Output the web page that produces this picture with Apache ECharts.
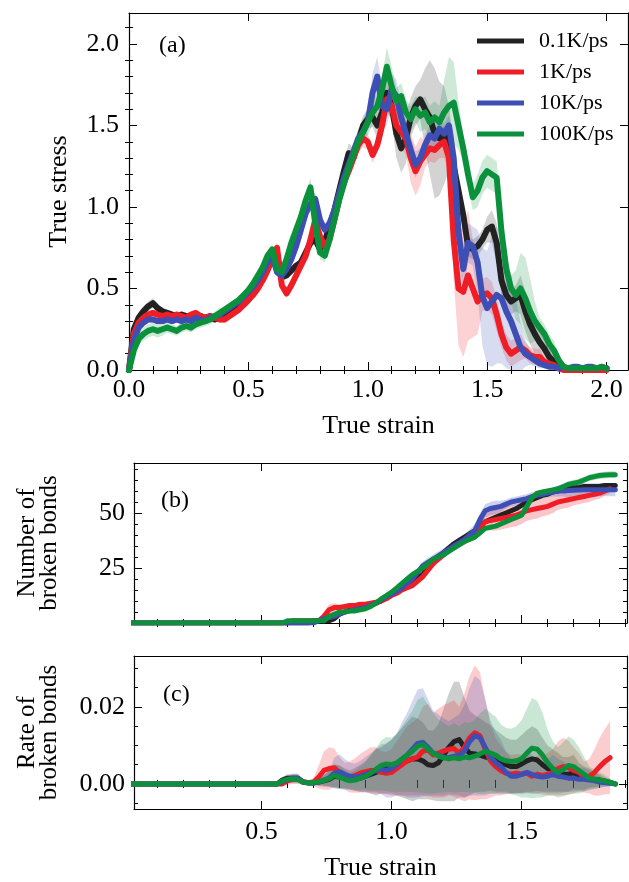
<!DOCTYPE html>
<html>
<head>
<meta charset="utf-8">
<script src="https://cdn.jsdelivr.net/npm/echarts@6/dist/echarts.min.js"></script>
<style>
  html, body { margin: 0; padding: 0; background: #fff; }
  #chart { width: 629px; height: 882px; }
</style>
</head>
<body>
<div id="chart"></div>
<script>
// ---- panel (a): true stress vs true strain ----
const strainA = [
  0.00, 0.02, 0.04, 0.06, 0.08, 0.10, 0.12, 0.14, 0.16, 0.18,
  0.20, 0.22, 0.24, 0.26, 0.28, 0.30, 0.32, 0.34, 0.36, 0.38,
  0.40, 0.42, 0.44, 0.46, 0.48, 0.50, 0.52, 0.54, 0.56, 0.58,
  0.60, 0.62, 0.64, 0.66, 0.68, 0.70, 0.72, 0.74, 0.76, 0.78,
  0.80, 0.82, 0.84, 0.86, 0.88, 0.90, 0.92, 0.94, 0.96, 0.98,
  1.00, 1.02, 1.04, 1.06, 1.08, 1.10, 1.12, 1.14, 1.16, 1.18,
  1.20, 1.22, 1.24, 1.26, 1.28, 1.30, 1.32, 1.34, 1.36, 1.38,
  1.40, 1.42, 1.44, 1.46, 1.48, 1.50, 1.52, 1.54, 1.56, 1.58,
  1.60, 1.62, 1.64, 1.66, 1.68, 1.70, 1.72, 1.74, 1.76, 1.78,
  1.80, 1.82, 1.84, 1.86, 1.88, 1.90, 1.92, 1.94, 1.96, 1.98,
  2.00
]
const stressK = [
  0, 0.25, 0.32, 0.36, 0.39, 0.41, 0.38, 0.36, 0.35, 0.34,
  0.33, 0.34, 0.33, 0.32, 0.34, 0.33, 0.32, 0.33, 0.31, 0.32,
  0.33, 0.34, 0.36, 0.38, 0.40, 0.43, 0.47, 0.51, 0.56, 0.62,
  0.68, 0.70, 0.57, 0.58, 0.61, 0.64, 0.66, 0.72, 0.78, 0.80,
  0.74, 0.79, 0.88, 0.98, 1.10, 1.22, 1.33, 1.30, 1.40, 1.50,
  1.54, 1.55, 1.50, 1.58, 1.70, 1.62, 1.45, 1.36, 1.42, 1.55,
  1.62, 1.66, 1.60, 1.55, 1.45, 1.42, 1.44, 1.42, 1.25, 1.10,
  0.95, 0.76, 0.74, 0.76, 0.80, 0.86, 0.88, 0.78, 0.55, 0.46,
  0.42, 0.44, 0.46, 0.36, 0.28, 0.22, 0.17, 0.13, 0.08, 0.05,
  0.02, 0.01, 0.01, 0.01, 0.01, 0.01, 0.01, 0.01, 0.01, 0.01,
  0.01
]
const stressR = [
  0, 0.22, 0.29, 0.32, 0.34, 0.35, 0.34, 0.33, 0.34, 0.33,
  0.34, 0.33, 0.32, 0.34, 0.35, 0.33, 0.32, 0.33, 0.32, 0.31,
  0.31, 0.33, 0.35, 0.37, 0.40, 0.43, 0.46, 0.50, 0.55, 0.61,
  0.68, 0.75, 0.52, 0.47, 0.52, 0.58, 0.64, 0.70, 0.80, 0.92,
  0.82, 0.76, 0.80, 0.92, 1.05, 1.15, 1.22, 1.30, 1.38, 1.42,
  1.40, 1.32, 1.38, 1.50, 1.66, 1.62, 1.50, 1.46, 1.42, 1.30,
  1.22, 1.28, 1.32, 1.36, 1.35, 1.38, 1.40, 1.30, 0.80, 0.50,
  0.48, 0.58, 0.50, 0.42, 0.46, 0.47, 0.44, 0.34, 0.22, 0.14,
  0.10, 0.12, 0.14, 0.12, 0.09, 0.08, 0.08, 0.05, 0.04, 0.03,
  0.01, 0, 0, 0, 0, 0, 0, 0, 0, 0,
  0
]
const stressB = [
  0, 0.18, 0.26, 0.29, 0.31, 0.31, 0.30, 0.30, 0.31, 0.30,
  0.31, 0.30, 0.31, 0.30, 0.32, 0.31, 0.30, 0.32, 0.33, 0.34,
  0.36, 0.38, 0.40, 0.42, 0.45, 0.48, 0.51, 0.55, 0.60, 0.66,
  0.70, 0.60, 0.58, 0.62, 0.68, 0.76, 0.86, 0.96, 1.02, 1.05,
  0.92, 0.86, 0.90, 0.98, 1.08, 1.18, 1.26, 1.34, 1.42, 1.46,
  1.52, 1.70, 1.80, 1.62, 1.60, 1.72, 1.68, 1.55, 1.45, 1.35,
  1.26, 1.30, 1.38, 1.44, 1.42, 1.48, 1.45, 1.50, 1.30, 0.85,
  0.62, 0.78, 0.76, 0.66, 0.45, 0.38, 0.42, 0.46, 0.44, 0.36,
  0.30, 0.22, 0.14, 0.10, 0.08, 0.06, 0.04, 0.03, 0.02, 0.02,
  0.01, 0.02, 0.01, 0.02, 0.02, 0.01, 0.02, 0.02, 0.01, 0.02,
  0.01
]
const stressG = [
  0, 0.12, 0.19, 0.22, 0.24, 0.25, 0.24, 0.25, 0.26, 0.25,
  0.24, 0.26, 0.27, 0.26, 0.28, 0.29, 0.30, 0.31, 0.33, 0.35,
  0.37, 0.39, 0.41, 0.43, 0.46, 0.49, 0.53, 0.58, 0.63, 0.70,
  0.74, 0.62, 0.60, 0.68, 0.78, 0.86, 0.94, 1.04, 1.12, 0.90,
  0.72, 0.70, 0.80, 0.92, 1.04, 1.14, 1.24, 1.32, 1.40, 1.46,
  1.52, 1.58, 1.62, 1.72, 1.86, 1.74, 1.65, 1.68, 1.58, 1.54,
  1.60, 1.56, 1.58, 1.52, 1.55, 1.52, 1.58, 1.62, 1.64, 1.50,
  1.36, 1.20, 1.06, 1.10, 1.18, 1.22, 1.20, 1.18, 0.85, 0.62,
  0.50, 0.46, 0.50, 0.44, 0.36, 0.30, 0.26, 0.22, 0.16, 0.12,
  0.06, 0.02, 0.01, 0.01, 0.01, 0.01, 0.01, 0.01, 0.01, 0.02,
  0.01
]
// half width of the shaded band
const stressSdK = [
  0, 0.03, 0.03, 0.03, 0.03, 0.03, 0.02, 0.02, 0.02, 0.02,
  0.02, 0.02, 0.02, 0.02, 0.02, 0.02, 0.02, 0.02, 0.02, 0.02,
  0.02, 0.02, 0.02, 0.02, 0.02, 0.02, 0.02, 0.02, 0.02, 0.02,
  0.02, 0.03, 0.03, 0.02, 0.02, 0.02, 0.03, 0.03, 0.03, 0.03,
  0.03, 0.03, 0.04, 0.05, 0.05, 0.05, 0.06, 0.06, 0.06, 0.06,
  0.06, 0.06, 0.08, 0.10, 0.10, 0.10, 0.15, 0.15, 0.15, 0.12,
  0.12, 0.12, 0.25, 0.35, 0.40, 0.35, 0.30, 0.20, 0.12, 0.10,
  0.08, 0.06, 0.06, 0.06, 0.06, 0.08, 0.10, 0.12, 0.10, 0.08,
  0.08, 0.08, 0.12, 0.12, 0.12, 0.12, 0.08, 0.05, 0.05, 0.04,
  0.02, 0.01, 0.01, 0.01, 0.01, 0.01, 0.01, 0.01, 0.01, 0.01,
  0.01
]
const stressSdR = [
  0, 0.03, 0.03, 0.02, 0.02, 0.02, 0.02, 0.02, 0.02, 0.02,
  0.02, 0.02, 0.02, 0.02, 0.02, 0.02, 0.02, 0.02, 0.02, 0.02,
  0.02, 0.02, 0.02, 0.02, 0.02, 0.02, 0.02, 0.02, 0.02, 0.02,
  0.02, 0.03, 0.03, 0.03, 0.02, 0.02, 0.02, 0.03, 0.03, 0.03,
  0.03, 0.03, 0.03, 0.03, 0.04, 0.04, 0.05, 0.05, 0.05, 0.05,
  0.05, 0.05, 0.05, 0.08, 0.08, 0.08, 0.10, 0.10, 0.10, 0.15,
  0.15, 0.15, 0.08, 0.08, 0.08, 0.08, 0.10, 0.10, 0.25, 0.35,
  0.40, 0.40, 0.30, 0.20, 0.10, 0.10, 0.10, 0.10, 0.08, 0.08,
  0.08, 0.08, 0.08, 0.05, 0.05, 0.05, 0.05, 0.03, 0.02, 0.02,
  0.01, 0.01, 0.01, 0.01, 0.01, 0.01, 0.01, 0.01, 0.01, 0.01,
  0.01
]
const stressSdB = [
  0, 0.03, 0.03, 0.02, 0.02, 0.02, 0.02, 0.02, 0.02, 0.02,
  0.02, 0.02, 0.02, 0.02, 0.02, 0.02, 0.02, 0.02, 0.02, 0.02,
  0.02, 0.02, 0.02, 0.02, 0.02, 0.02, 0.02, 0.02, 0.02, 0.02,
  0.02, 0.03, 0.03, 0.03, 0.03, 0.03, 0.03, 0.03, 0.04, 0.04,
  0.04, 0.04, 0.04, 0.04, 0.04, 0.04, 0.05, 0.05, 0.06, 0.06,
  0.06, 0.12, 0.12, 0.12, 0.10, 0.10, 0.10, 0.08, 0.08, 0.08,
  0.08, 0.06, 0.06, 0.06, 0.06, 0.06, 0.06, 0.06, 0.15, 0.15,
  0.15, 0.12, 0.12, 0.20, 0.30, 0.35, 0.40, 0.42, 0.40, 0.35,
  0.30, 0.22, 0.15, 0.08, 0.05, 0.04, 0.03, 0.02, 0.02, 0.02,
  0.01, 0.01, 0.01, 0.01, 0.01, 0.01, 0.01, 0.01, 0.01, 0.01,
  0.01
]
const stressSdG = [
  0, 0.04, 0.04, 0.04, 0.04, 0.04, 0.04, 0.04, 0.03, 0.03,
  0.03, 0.03, 0.03, 0.03, 0.03, 0.03, 0.03, 0.03, 0.03, 0.03,
  0.02, 0.02, 0.02, 0.02, 0.02, 0.02, 0.02, 0.02, 0.02, 0.02,
  0.03, 0.03, 0.03, 0.03, 0.03, 0.04, 0.04, 0.05, 0.06, 0.05,
  0.04, 0.04, 0.04, 0.04, 0.05, 0.05, 0.06, 0.06, 0.07, 0.08,
  0.08, 0.08, 0.08, 0.08, 0.12, 0.12, 0.08, 0.08, 0.08, 0.08,
  0.08, 0.10, 0.10, 0.10, 0.10, 0.10, 0.20, 0.30, 0.25, 0.15,
  0.08, 0.08, 0.08, 0.10, 0.10, 0.10, 0.10, 0.10, 0.08, 0.08,
  0.08, 0.15, 0.22, 0.25, 0.20, 0.12, 0.06, 0.06, 0.06, 0.06,
  0.03, 0.02, 0.01, 0.01, 0.01, 0.01, 0.01, 0.01, 0.01, 0.01,
  0.01
]

// ---- panels (b) and (c): shared strain samples ----
const strainBC = [
  0,
  0.56, 0.58, 0.60, 0.62, 0.64, 0.66, 0.68, 0.70, 0.72, 0.74,
  0.76, 0.78, 0.80, 0.82, 0.84, 0.86, 0.88, 0.90, 0.92, 0.94,
  0.96, 0.98, 1.00, 1.02, 1.04, 1.06, 1.08, 1.10, 1.12, 1.14,
  1.16, 1.18, 1.20, 1.22, 1.24, 1.26, 1.28, 1.30, 1.32, 1.34,
  1.36, 1.38, 1.40, 1.42, 1.44, 1.46, 1.48, 1.50, 1.52, 1.54,
  1.56, 1.58, 1.60, 1.62, 1.64, 1.66, 1.68, 1.70, 1.72, 1.74,
  1.76, 1.78, 1.80, 1.82, 1.84, 1.86
]
// number of broken bonds
const bondsK = [
  0,
  0, 0, 0, 0, 0, 0, 0, 1, 1, 1,
  1, 2, 4, 5, 6, 6.5, 7, 7.5, 8, 9,
  10, 11.5, 13, 14.5, 16, 17.5, 19, 20.5, 22, 25,
  28, 30, 32, 34, 36, 37.5, 39, 40.5, 42, 44,
  46, 47, 48, 49, 50, 51, 52, 53.5, 55, 56,
  57, 58, 58.5, 59.5, 60, 60.5, 61, 61.5, 61.5, 62,
  62, 62, 62, 62.5, 62.5, 62.5
]
const bondsR = [
  0,
  0, 0, 0, 1, 1, 1, 1, 1, 1, 3,
  6, 7, 7, 7.5, 8, 8, 8.5, 8.5, 9, 9.5,
  10, 11, 12.5, 13.5, 15, 16, 17, 19, 21, 24,
  27, 29, 31, 33, 35, 36, 37, 39, 41, 43,
  46, 46.5, 47, 47.5, 48, 48.5, 49, 50, 51, 51.5,
  52, 52.5, 53, 54, 55, 55.5, 56, 56.5, 57, 57.5,
  58, 58.5, 59, 60, 61, null
]
const bondsB = [
  0,
  0, 0, 0, 0, 0, 0, 0, 0, 1, 2,
  2.5, 3, 4, 5, 5.5, 6, 6.5, 7, 8, 9,
  10.5, 12, 13, 14.5, 16, 18, 20, 23, 26, 27.5,
  29, 30.5, 32, 33.5, 35, 36.5, 38, 40, 42, 47,
  51, 52, 52.5, 53, 54, 55, 55.5, 56, 56.5, 57.5,
  58, 58.5, 59, 59.5, 60, 60, 60.2, 60.3, 60.4, 60.5,
  60.5, 60.5, 60.6, 60.6, 60.6, 60.6
]
const bondsG = [
  0,
  0, 0, 1, 1, 1, 1, 1, 1, 1, 1,
  3, 4, 5, 5, 5.5, 5.5, 6, 6.5, 7.5, 9,
  11, 12.5, 14, 16, 18, 20, 22, 23.5, 25, 27,
  29, 30, 31, 32.5, 34, 35.5, 37, 38, 39, 41,
  43, 43.5, 44, 45, 46, 47, 48, 49, 53, 57,
  59, 59.5, 60, 60.5, 61, 62, 63, 63.5, 64, 65,
  66, 66.5, 67, 67.2, 67.4, 67.4
]
const bondsSdK = [
  0,
  0, 0, 0, 0, 0, 0, 0, 0.5, 0.5, 0.5,
  0.5, 0.5, 0.5, 0.5, 0.5, 0.5, 0.5, 0.5, 0.5, 0.5,
  1, 1, 1, 1, 1, 1, 1, 1, 1, 1,
  1.5, 1.5, 1.5, 1.5, 1.5, 1, 1, 1, 1, 1,
  1, 1, 1, 1, 1, 1, 1, 1, 1, 1,
  1, 1, 1, 1, 1, 1, 1, 1, 1, 1,
  1, 1, 1, 1, 1, 1
]
const bondsSdR = [
  0,
  0, 0, 0, 0.5, 0.5, 1, 1, 1, 1.5, 2,
  2.5, 2, 1.5, 1, 1, 1, 1, 1, 1, 1,
  1, 1, 1, 1, 1, 1, 1, 1.5, 1.5, 1.5,
  1.5, 1.5, 1.5, 1.5, 1.5, 1.5, 1.5, 2, 2, 3,
  4, 4.5, 5, 5, 5, 5, 5, 5, 4.5, 4.5,
  4.5, 4, 4, 4, 3.5, 3.5, 3.5, 3, 3, 3,
  3, 2.5, 2.5, 2, 2, null
]
const bondsSdB = [
  0,
  0, 0, 0, 0, 0, 0, 0, 0, 0.5, 0.5,
  0.5, 0.5, 0.5, 0.5, 0.5, 0.5, 0.5, 0.5, 1, 1,
  1, 1, 1, 1.5, 1.5, 1.5, 1.5, 2, 2, 2,
  2, 2, 2, 2, 2, 2, 2, 2.5, 3, 3,
  3, 3, 3, 2.5, 2, 2, 2, 2, 2, 2,
  2, 2, 2, 2, 2.5, 2.5, 3, 3, 3, 3,
  3, 3, 3, 3, 3, 3
]
const bondsSdG = [
  0,
  0, 0, 0.5, 0.5, 0.5, 0.5, 0.5, 0.5, 0.5, 0.5,
  0.5, 0.5, 0.5, 0.5, 0.5, 0.5, 0.5, 0.5, 0.5, 0.5,
  0.5, 0.5, 0.5, 0.5, 0.5, 0.5, 0.5, 0.5, 0.5, 0.5,
  1, 1, 1, 1, 1, 1, 1, 1, 1, 1,
  1, 1, 1, 1, 1, 1, 1, 1, 1, 1,
  1, 1, 1, 1, 1, 1, 1.5, 1.5, 1.5, 1.5,
  1.5, 1.5, 1.5, 1.5, 1.5, 1.5
]
// rate of broken bonds
const rateK = [
  0,
  0, 0.001, 0.0015, 0.0015, 0.0015, 0.0005, 0.0003, 0.0003, 0.0005, 0.0008,
  0.0012, 0.002, 0.0018, 0.0015, 0.001, 0.0012, 0.0015, 0.002, 0.0025, 0.003,
  0.0035, 0.004, 0.0045, 0.005, 0.0055, 0.006, 0.0065, 0.0065, 0.006, 0.005,
  0.0048, 0.0055, 0.0075, 0.0095, 0.011, 0.0115, 0.0095, 0.008, 0.0078, 0.0075,
  0.007, 0.0068, 0.006, 0.0055, 0.005, 0.0045, 0.0045, 0.0052, 0.006, 0.0065,
  0.0062, 0.005, 0.004, 0.0035, 0.003, 0.0025, 0.0025, 0.003, 0.002, 0.0015,
  0.0015, 0.0012, 0.001, 0.0007, 0.0004, 0
]
const rateR = [
  0,
  0, 0, 0.0008, 0.0012, 0.0012, 0.0006, 0.0003, 0.0005, 0.0018, 0.0035,
  0.004, 0.0042, 0.003, 0.002, 0.0018, 0.0022, 0.0028, 0.0032, 0.0035, 0.0035,
  0.003, 0.0028, 0.003, 0.004, 0.005, 0.006, 0.0065, 0.007, 0.0085, 0.0088,
  0.0075, 0.008, 0.0085, 0.009, 0.0092, 0.008, 0.0095, 0.012, 0.0133, 0.0125,
  0.009, 0.006, 0.0045, 0.0035, 0.0028, 0.0025, 0.0028, 0.0025, 0.0028, 0.002,
  0.0025, 0.0022, 0.0025, 0.003, 0.004, 0.0045, 0.0042, 0.0035, 0.003, 0.0018,
  0.002, 0.003, 0.0045, 0.0058, 0.0068, null
]
const rateB = [
  0,
  0, 0.0005, 0.0012, 0.0015, 0.0015, 0.0005, 0.0002, 0.0002, 0.0005, 0.001,
  0.0015, 0.0028, 0.0032, 0.0025, 0.002, 0.0018, 0.002, 0.0025, 0.003, 0.0035,
  0.0038, 0.0035, 0.004, 0.005, 0.0065, 0.0075, 0.009, 0.0105, 0.0108, 0.0095,
  0.008, 0.0075, 0.007, 0.0068, 0.0072, 0.0075, 0.0085, 0.011, 0.0125, 0.012,
  0.0095, 0.007, 0.0055, 0.0045, 0.003, 0.002, 0.002, 0.0025, 0.003, 0.0025,
  0.002, 0.0018, 0.002, 0.0025, 0.002, 0.0018, 0.0015, 0.0015, 0.0012, 0.0012,
  0.001, 0.0008, 0.0005, 0.0003, 0.0002, 0
]
const rateG = [
  0,
  0, 0.0008, 0.0012, 0.0012, 0.0012, 0.0004, 0.0003, 0.0003, 0.0006, 0.0009,
  0.0014, 0.0022, 0.0018, 0.0012, 0.0008, 0.001, 0.0015, 0.002, 0.0028, 0.0038,
  0.0048, 0.0052, 0.005, 0.0055, 0.0065, 0.0075, 0.0085, 0.0098, 0.0102, 0.009,
  0.008, 0.0072, 0.0068, 0.0065, 0.0068, 0.0065, 0.007, 0.0068, 0.0072, 0.0078,
  0.0085, 0.008, 0.0075, 0.0065, 0.006, 0.0058, 0.006, 0.0065, 0.008, 0.0093,
  0.009, 0.0075, 0.0055, 0.004, 0.003, 0.0038, 0.0048, 0.0045, 0.0035, 0.0025,
  0.0015, 0.0012, 0.001, 0.0008, 0.0004, 0
]
const rateSdK = [
  0,
  0, 0.0008, 0.001, 0.001, 0.001, 0.0008, 0.0005, 0.0005, 0.001, 0.0015,
  0.002, 0.003, 0.003, 0.0025, 0.0025, 0.003, 0.0035, 0.004, 0.005, 0.006,
  0.006, 0.0065, 0.007, 0.008, 0.009, 0.01, 0.011, 0.0105, 0.01, 0.009,
  0.009, 0.01, 0.012, 0.014, 0.0155, 0.015, 0.013, 0.011, 0.01, 0.0095,
  0.009, 0.0085, 0.008, 0.0075, 0.007, 0.007, 0.007, 0.0075, 0.008, 0.0085,
  0.008, 0.007, 0.006, 0.0055, 0.005, 0.0045, 0.0045, 0.0045, 0.0035, 0.003,
  0.0025, 0.002, 0.0015, 0.001, 0.0008, 0
]
const rateSdR = [
  0,
  0, 0, 0.001, 0.0012, 0.0012, 0.0008, 0.0005, 0.001, 0.003, 0.005,
  0.0055, 0.005, 0.004, 0.0035, 0.004, 0.0045, 0.005, 0.0055, 0.006, 0.006,
  0.0055, 0.0055, 0.006, 0.007, 0.008, 0.009, 0.0095, 0.01, 0.0115, 0.012,
  0.011, 0.0115, 0.012, 0.012, 0.0125, 0.012, 0.014, 0.016, 0.0175, 0.0165,
  0.013, 0.0095, 0.0075, 0.0065, 0.0055, 0.005, 0.005, 0.005, 0.005, 0.0045,
  0.005, 0.005, 0.0055, 0.006, 0.007, 0.0075, 0.007, 0.006, 0.005, 0.004,
  0.0045, 0.006, 0.0075, 0.0085, 0.0095, null
]
const rateSdB = [
  0,
  0, 0.0006, 0.001, 0.0012, 0.0012, 0.0006, 0.0004, 0.0004, 0.0008, 0.0015,
  0.002, 0.004, 0.0045, 0.004, 0.0035, 0.0035, 0.004, 0.0045, 0.005, 0.0055,
  0.0065, 0.007, 0.0075, 0.008, 0.0095, 0.011, 0.0125, 0.014, 0.014, 0.0125,
  0.011, 0.0105, 0.01, 0.0095, 0.01, 0.0105, 0.012, 0.014, 0.0155, 0.015,
  0.0125, 0.0095, 0.008, 0.007, 0.0055, 0.0045, 0.0045, 0.005, 0.0055, 0.005,
  0.0045, 0.004, 0.0045, 0.005, 0.0045, 0.004, 0.0035, 0.0035, 0.003, 0.003,
  0.0025, 0.002, 0.0015, 0.001, 0.0008, 0
]
const rateSdG = [
  0,
  0, 0.0008, 0.001, 0.001, 0.001, 0.0006, 0.0005, 0.0005, 0.0008, 0.0012,
  0.002, 0.003, 0.003, 0.0025, 0.002, 0.0025, 0.003, 0.0035, 0.0045, 0.0055,
  0.0065, 0.007, 0.007, 0.0075, 0.0085, 0.0095, 0.0105, 0.012, 0.0125, 0.0115,
  0.0105, 0.0095, 0.009, 0.0085, 0.009, 0.0085, 0.009, 0.009, 0.0095, 0.0105,
  0.011, 0.0105, 0.01, 0.009, 0.0085, 0.0085, 0.009, 0.01, 0.0115, 0.013,
  0.0125, 0.011, 0.0085, 0.007, 0.0065, 0.007, 0.0075, 0.007, 0.006, 0.0045,
  0.003, 0.0025, 0.002, 0.0015, 0.001, 0
]

const rateNames = ['0.1K/ps', '1K/ps', '10K/ps', '100K/ps']
const colors = ['#222222', '#ee1d26', '#3d4eb4', '#0b913c']

// tick values
const ticksA_x = [0, 0.5, 1.0, 1.5, 2.0]
const minorA_x = [0.1, 0.2, 0.3, 0.4, 0.6, 0.7, 0.8, 0.9, 1.1, 1.2, 1.3, 1.4, 1.6, 1.7, 1.8, 1.9, 2.0]
const ticksA_y = [0, 0.5, 1.0, 1.5, 2.0]
const minorA_y = [0.1, 0.2, 0.3, 0.4, 0.6, 0.7, 0.8, 0.9, 1.1, 1.2, 1.3, 1.4, 1.6, 1.7, 1.8, 1.9, 2.1]
const ticksBC_x = [0.5, 1.0, 1.5]
const minorBC_x = [0.1, 0.2, 0.3, 0.4, 0.6, 0.7, 0.8, 0.9, 1.1, 1.2, 1.3, 1.4, 1.6, 1.7, 1.8, 1.9]
const ticksB_y = [0, 25, 50]
const minorB_y = [5, 10, 15, 20, 30, 35, 40, 45, 55, 60, 65, 70]
const ticksC_y = [0, 0.02]
const minorC_y = [-0.005, 0.005, 0.01, 0.015, 0.025, 0.03]

const FONT = '"Liberation Serif", "Times New Roman", serif'
const chart = echarts.init(document.getElementById('chart'))

// four axes per side: main, minor ticks, mirrored main, mirrored minor
function makeAxes (dim, grid, min, max, majors, minors, lab) {
  const sides = dim === 'x' ? ['bottom', 'top'] : ['left', 'right']
  const base = {
    type: 'value',
    gridIndex: grid,
    min: min,
    max: max,
    splitLine: { show: false },
    axisLine: { show: true, onZero: false, lineStyle: { color: '#000', width: 1.2 } }
  }
  const tick = (vals, len) => ({ show: true, inside: true, length: len, customValues: vals, lineStyle: { color: '#000', width: 1 } })
  const main = Object.assign({}, base, {
    position: sides[0],
    axisTick: tick(majors, 8),
    axisLabel: lab.values.length ? {
      show: true,
      customValues: lab.values,
      formatter: lab.fmt,
      margin: lab.margin,
      fontFamily: FONT,
      fontSize: 26,
      color: '#000'
    } : { show: false },
    name: lab.name || '',
    nameLocation: 'middle',
    nameGap: lab.nameGap || 0,
    nameRotate: dim === 'y' ? 90 : 0,
    nameTextStyle: { fontFamily: FONT, fontSize: lab.nameSize || 26, color: '#000', lineHeight: lab.nameLine || 26 }
  })
  const minor = Object.assign({}, base, { position: sides[0], axisLine: { show: false }, axisTick: tick(minors, 4), axisLabel: { show: false } })
  const mirror = Object.assign({}, base, { position: sides[1], axisTick: tick(majors, 8), axisLabel: { show: false } })
  const mirrorMinor = Object.assign({}, base, { position: sides[1], axisLine: { show: false }, axisTick: tick(minors, 4), axisLabel: { show: false } })
  return [main, minor, mirror, mirrorMinor]
}

const xAxes = [].concat(
  makeAxes('x', 0, 0, 2.09, ticksA_x, minorA_x, { values: ticksA_x, fmt: v => v.toFixed(1), margin: 7, name: 'True strain', nameGap: 43 }),
  makeAxes('x', 1, 0.01, 1.905, ticksBC_x, minorBC_x, { values: [] }),
  makeAxes('x', 2, 0.01, 1.905, ticksBC_x, minorBC_x, { values: ticksBC_x, fmt: v => v.toFixed(1), margin: 10, name: 'True strain', nameGap: 46 })
)
const yAxes = [].concat(
  makeAxes('y', 0, 0, 2.19, ticksA_y, minorA_y, { values: ticksA_y, fmt: v => v.toFixed(1), margin: 10, name: 'True stress', nameGap: 57 }),
  makeAxes('y', 1, 0, 72.7, ticksB_y, minorB_y, { values: [25, 50], fmt: v => String(v), margin: 9, name: 'Number of\nbroken bonds', nameGap: 74, nameSize: 25, nameLine: 22 }),
  makeAxes('y', 2, -0.0065, 0.0332, ticksC_y, minorC_y, { values: ticksC_y, fmt: v => v.toFixed(2), margin: 9, name: 'Rate of\nbroken bonds', nameGap: 74, nameSize: 25, nameLine: 22 })
)

const pairs = (xs, ys) => xs.map((x, i) => [x, ys[i] == null ? '-' : ys[i]])

// shaded band (mean +- sd) drawn as one polygon through the axis scales
function bandSeries (ax, xs, mean, sd, color, alpha) {
  return {
    type: 'custom',
    xAxisIndex: ax,
    yAxisIndex: ax,
    silent: true,
    clip: true,
    z: 1,
    data: [[xs[0], mean[0]]],
    renderItem: (params, api) => {
      const up = []
      const lo = []
      xs.forEach((x, i) => {
        if (mean[i] == null) return
        up.push(api.coord([x, mean[i] + sd[i]]))
        lo.push(api.coord([x, mean[i] - sd[i]]))
      })
      const cs = params.coordSys
      return {
        type: 'polygon',
        shape: { points: up.concat(lo.reverse()) },
        style: { fill: color, opacity: alpha },
        clipPath: { type: 'rect', shape: { x: cs.x, y: cs.y, width: cs.width, height: cs.height } }
      }
    }
  }
}

function panelSeries (panel, xs, means, sds, width, bandAlpha) {
  const ax = panel * 4
  const out = []
  means.forEach((m, k) => out.push(bandSeries(ax, xs, m, sds[k], colors[k], bandAlpha)))
  means.forEach((m, k) => {
    out.push({
      name: rateNames[k], type: 'line', xAxisIndex: ax, yAxisIndex: ax, symbol: 'none',
      data: pairs(xs, m), color: colors[k],
      lineStyle: { color: colors[k], width: width, join: 'round', cap: 'round' }, z: 3
    })
  })
  return out
}

const series = [].concat(
  panelSeries(0, strainA, [stressK, stressR, stressB, stressG], [stressSdK, stressSdR, stressSdB, stressSdG], 6, 0.2),
  panelSeries(1, strainBC, [bondsK, bondsR, bondsB, bondsG], [bondsSdK, bondsSdR, bondsSdB, bondsSdG], 5, 0.25),
  panelSeries(2, strainBC, [rateK, rateR, rateB, rateG], [rateSdK, rateSdR, rateSdB, rateSdG], 5, 0.22)
)

const option = {
  animation: false,
  backgroundColor: '#fff',
  textStyle: { fontFamily: FONT },
  grid: [
    { left: 129, top: 13, width: 499, height: 357 },
    { left: 134, top: 463, width: 493, height: 160 },
    { left: 134, top: 656, width: 493, height: 161 }
  ],
  title: [
    { text: '(a)', left: 154, top: 29, textStyle: { fontFamily: FONT, fontSize: 24, fontWeight: 'normal', color: '#000', lineHeight: 24 } },
    { text: '(b)', left: 156, top: 484, textStyle: { fontFamily: FONT, fontSize: 24, fontWeight: 'normal', color: '#000', lineHeight: 24 } },
    { text: '(c)', left: 158, top: 678, textStyle: { fontFamily: FONT, fontSize: 24, fontWeight: 'normal', color: '#000', lineHeight: 24 } }
  ],
  legend: {
    data: rateNames,
    orient: 'vertical',
    left: 472,
    top: 25,
    icon: 'rect',
    itemWidth: 47,
    itemHeight: 5,
    itemGap: 9,
    selectedMode: false,
    textStyle: { fontFamily: FONT, fontSize: 22, color: '#000', lineHeight: 22, padding: [0, 0, 0, 10] }
  },
  xAxis: xAxes,
  yAxis: yAxes,
  series: series
}
chart.setOption(option)
</script>
</body>
</html>
